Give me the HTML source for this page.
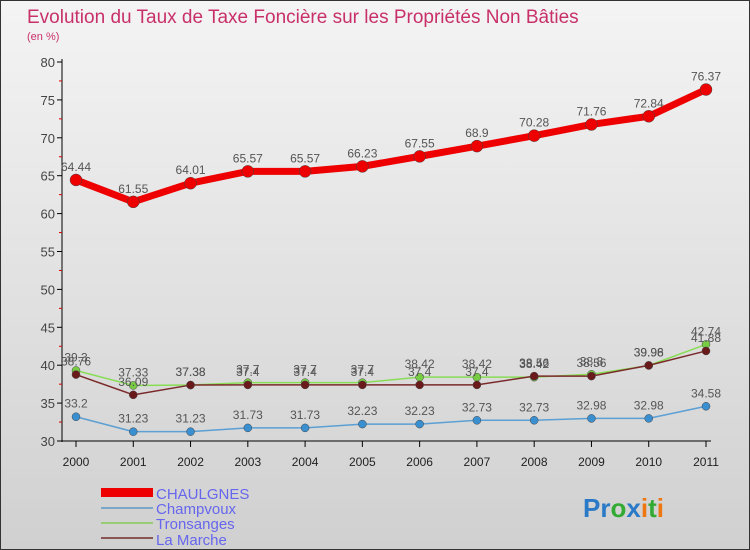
<!DOCTYPE html>
<html><head><meta charset="utf-8"><style>
body{margin:0;}
#wrap{position:relative;width:750px;height:550px;overflow:hidden;background:linear-gradient(#f4f4f4,#d0d0d0);font-family:"Liberation Sans",sans-serif;box-sizing:border-box;border:1px solid #333;}
svg text{font-family:"Liberation Sans",sans-serif;}
</style></head><body>
<div id="wrap">
<svg id="svg" width="750" height="550">
<text x="26" y="22" font-size="19" fill="#c8306a">Evolution du Taux de Taxe Foncière sur les Propriétés Non Bâties</text>
<text x="26" y="39" font-size="11" fill="#c8306a">(en %)</text>
<g id="axes"></g><g id="series"></g>
<g>
<rect x="100" y="487" width="52" height="9" fill="#ee0000"/>
<text x="155" y="498" font-size="15" fill="#6666ee">CHAULGNES</text>
<rect x="100" y="506" width="52" height="2" fill="#7aa7c8"/>
<text x="155" y="513" font-size="15" fill="#6666ee">Champvoux</text>
<rect x="100" y="521" width="52" height="2" fill="#99cc77"/>
<text x="155" y="528" font-size="15" fill="#6666ee">Tronsanges</text>
<rect x="100" y="536" width="52" height="2" fill="#8a5555"/>
<text x="155" y="544" font-size="15" fill="#6666ee">La Marche</text>
</g>
<text x="582" y="516" font-size="26" font-weight="bold"><tspan fill="#2a7ac8">Pr</tspan><tspan fill="#33aa33">o</tspan><tspan fill="#2a7ac8">x</tspan><tspan fill="#ee7711">i</tspan><tspan fill="#33aa33">t</tspan><tspan fill="#ee7711">i</tspan></text>
</svg></div>
<script>
const years=[2000,2001,2002,2003,2004,2005,2006,2007,2008,2009,2010,2011];
const chaulgnes=[64.44,61.55,64.01,65.57,65.57,66.23,67.55,68.9,70.28,71.76,72.84,76.37];
const champvoux=[33.2,31.23,31.23,31.73,31.73,32.23,32.23,32.73,32.73,32.98,32.98,34.58];
const tronsanges=[39.3,37.33,37.38,37.7,37.7,37.7,38.42,38.42,38.42,38.8,39.96,42.74];
const laMarche=[38.76,36.09,37.38,37.4,37.4,37.4,37.4,37.4,38.56,38.56,39.98,41.88];
const yTicks=[30,35,40,45,50,55,60,65,70,75,80];
const NS="http://www.w3.org/2000/svg";
const x=i=>75+i*(630/11);
const y=v=>440-(v-30)*(379/50);
function mk(tag,attrs,parent){const e=document.createElementNS(NS,tag);for(const k in attrs)e.setAttribute(k,attrs[k]);parent.appendChild(e);return e;}
const axes=document.getElementById('axes');
let ax=mk('line',{x1:61,y1:58,x2:61,y2:441,stroke:'#000'},axes);


ax=mk('line',{x1:61,y1:440,x2:710,y2:440,stroke:'#000'},axes);


yTicks.forEach(v=>{
 mk('line',{x1:56,y1:y(v),x2:61,y2:y(v),stroke:'#000'},axes);
 if(v<80)mk('line',{x1:58,y1:y(v+2.5),x2:61,y2:y(v+2.5),stroke:'#d00'},axes);
 const t=mk('text',{x:54,y:y(v)+5,'font-size':13,fill:'#444','text-anchor':'end'},axes);
 t.textContent=v;
 
 
});
years.forEach((yr,i)=>{
 mk('line',{x1:x(i),y1:440,x2:x(i),y2:446,stroke:'#000'},axes);
 const t=mk('text',{x:x(i),y:465,'font-size':12,fill:'#222','text-anchor':'middle'},axes);
 t.textContent=yr;
 
 
});
const sg=document.getElementById('series');
function draw(vals,name,color,w,r,dot){
 const g=mk('g',{},sg);
 
 
 const p=mk('polyline',{points:vals.map((v,i)=>x(i)+','+y(v)).join(' '),fill:'none',stroke:color,'stroke-width':w,'stroke-linejoin':'round'},g);
 
 
 vals.forEach((v,i)=>{
  const c=mk('circle',{cx:x(i),cy:y(v),r:r,fill:dot,stroke:'#444','stroke-width':0.5},g);
  
  
  const t=mk('text',{x:x(i),y:y(v)-9,'font-size':12,fill:'#555','text-anchor':'middle'},g);
  t.textContent=String(v);
  
  
 });
}
draw(champvoux,'champvoux','#5b9fd4',1.5,4,'#3a8fd0');
draw(tronsanges,'tronsanges','#88dd55',1.5,4,'#77cc44');
draw(laMarche,'la-marche','#7a2a2a',1.5,4,'#6a1a1a');
draw(chaulgnes,'chaulgnes','#ee0000',7,6,'#ee0000');
</script>
</body></html>
